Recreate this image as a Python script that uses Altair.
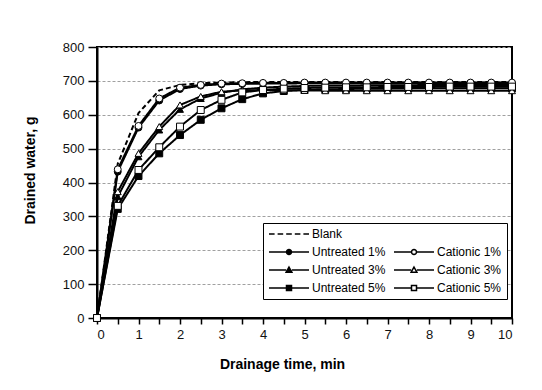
import altair as alt
import pandas as pd
import math

# ---------------- data ----------------
time_min = [0, 0.5, 1, 1.5, 2, 2.5, 3, 3.5, 4, 4.5, 5, 5.5, 6, 6.5, 7, 7.5, 8, 8.5, 9, 9.5, 10]

blank       = [0, 455, 605, 672, 688, 693, 695, 696, 697, 697, 697, 697, 697, 697, 697, 697, 697, 697, 697, 697, 697]
untreated_1 = [0, 432, 562, 642, 676, 686, 690, 691, 692, 692, 693, 693, 693, 693, 693, 693, 693, 693, 693, 693, 693]
cationic_1  = [0, 439, 567, 648, 680, 688, 692, 693, 694, 694, 695, 695, 695, 695, 695, 695, 695, 695, 695, 695, 695]
untreated_3 = [0, 358, 476, 555, 616, 648, 665, 675, 680, 683, 685, 686, 686, 687, 687, 687, 688, 688, 688, 688, 688]
cationic_3  = [0, 373, 486, 565, 629, 654, 668, 672, 673, 672, 672, 671, 671, 671, 671, 671, 671, 671, 671, 671, 671]
untreated_5 = [0, 322, 419, 486, 540, 585, 619, 646, 663, 670, 673, 675, 676, 677, 677, 678, 678, 678, 678, 678, 678]
cationic_5  = [0, 331, 437, 504, 565, 614, 644, 666, 673, 677, 679, 680, 681, 681, 682, 682, 682, 683, 683, 683, 683]

series_names = ["Blank", "Untreated 1%", "Untreated 3%", "Untreated 5%",
                "Cationic 1%", "Cationic 3%", "Cationic 5%"]
series_values = [blank, untreated_1, untreated_3, untreated_5, cationic_1, cationic_3, cationic_5]

x_ticks = [i * 0.5 for i in range(21)]
y_ticks = [0, 100, 200, 300, 400, 500, 600, 700, 800]

rows = []
for name, vals in zip(series_names, series_values):
    for t, v in zip(time_min, vals):
        rows.append({"t": t, "g": v, "series": name})
df = pd.DataFrame(rows)

# ---------------- styles ----------------
FONT = "Arial, Liberation Sans, sans-serif"
line_order = series_names
dash_range = [[5, 3]] + [[1, 0]] * 6

point_names = series_names[1:]
point_shapes = ["circle", "triangle-up", "square", "circle", "triangle-up", "square"]
point_fills = ["black", "black", "black", "white", "white", "white"]

# legend symbol paths (unit = sqrt(size)/2 px); line from x=-1..7 units, marker at 3
def circ(cx, r, n=16):
    pts = [(cx + r * math.cos(2 * math.pi * k / n), r * math.sin(2 * math.pi * k / n)) for k in range(n)]
    return "M" + "L".join(f"{x:.3f},{y:.3f}" for x, y in pts) + "Z"

def tri(cx, r):
    return f"M{cx:.3f},{-r:.3f}L{cx + r:.3f},{r * 0.75:.3f}L{cx - r:.3f},{r * 0.75:.3f}Z"

def sq(cx, r):
    return f"M{cx - r:.3f},{-r:.3f}H{cx + r:.3f}V{r:.3f}H{cx - r:.3f}Z"

R = 0.5
def with_line(marker, r=R):
    return f"M-1,0H{3 - r:.3f}M{3 + r:.3f},0H7" + marker

dashes = "".join(f"M{-1 + k * 1.72:.3f},0H{-1 + k * 1.72 + 1.12:.3f}" for k in range(5))

legend_names = ["Blank", " ", "Untreated 1%", "Cationic 1%", "Untreated 3%", "Cationic 3%",
                "Untreated 5%", "Cationic 5%"]
legend_paths = [dashes, "M0,0", with_line(circ(3, R)), with_line(circ(3, R)),
                with_line(tri(3, R * 1.15), R * 1.15), with_line(tri(3, R * 1.15), R * 1.15),
                with_line(sq(3, R)), with_line(sq(3, R))]
legend_fills = ["white", "white", "black", "white", "black", "white", "black", "white"]
legend_strokes = ["black"] * len(legend_names)

leg = alt.Legend(title=None, orient="none", legendX=166, legendY=176, columns=2,
                 direction="horizontal",
                 symbolSize=100, labelOffset=32, columnPadding=5, rowPadding=6,
                 padding=5, strokeColor="black", fillColor="white",
                 symbolStrokeColor="black", symbolStrokeWidth=1.5, symbolOpacity=1,
                 labelFont=FONT, labelFontSize=12, labelColor="black")

x_axis = alt.Axis(title="Drainage time, min", values=x_ticks, grid=False,
                  labelExpr="datum.value % 1 === 0 ? format(datum.value, 'd') : ''",
                  tickSize=6, labelPadding=4, titlePadding=16, titleX=185)
y_axis = alt.Axis(title="Drained water, g", values=y_ticks, grid=True,
                  gridDash=[3, 2], gridColor="#a0a0a0", gridWidth=1,
                  tickSize=9, labelPadding=4, titlePadding=25, titleY=123)
x_scale = alt.Scale(domain=[0, 10], nice=False)
y_scale = alt.Scale(domain=[0, 800], nice=False)

def xe():
    return alt.X("t:Q", scale=x_scale, axis=x_axis)

def ye():
    return alt.Y("g:Q", scale=y_scale, axis=y_axis)

lines = alt.Chart(df).mark_line(color="black", strokeWidth=2, opacity=1).encode(
    x=xe(), y=ye(),
    detail="series:N",
    strokeDash=alt.StrokeDash("series:N", scale=alt.Scale(domain=line_order, range=dash_range),
                              legend=None),
)

points = alt.Chart(df).transform_filter("datum.series !== 'Blank'").mark_point(
    filled=True, stroke="black", strokeWidth=1, size=48, opacity=1
).encode(
    x=xe(), y=ye(),
    shape=alt.Shape("series:N", scale=alt.Scale(domain=point_names, range=point_shapes), legend=None),
    fill=alt.Fill("series:N", scale=alt.Scale(domain=point_names, range=point_fills), legend=None),
)

legend_layer = alt.Chart(df).transform_filter("datum.t < 0").mark_point(
    filled=True, strokeWidth=1.5, opacity=1
).encode(
    x=xe(), y=ye(),
    shape=alt.Shape("series:N", scale=alt.Scale(domain=legend_names, range=legend_paths), legend=leg),
    fill=alt.Fill("series:N", scale=alt.Scale(domain=legend_names, range=legend_fills), legend=leg),
    stroke=alt.Stroke("series:N", scale=alt.Scale(domain=legend_names, range=legend_strokes), legend=leg),
)

chart = alt.layer(lines, points, legend_layer).resolve_scale(
    shape="independent", fill="independent", strokeDash="independent", stroke="independent"
).properties(
    width=415, height=271,
    autosize=alt.AutoSizeParams(type="none"),
    padding={"left": 89, "top": 39, "right": 22, "bottom": 64},
).configure_view(
    stroke="black", strokeWidth=2
).configure_axis(
    domainColor="black", domainWidth=2, tickColor="black", tickWidth=1.5,
    labelFont=FONT, labelFontSize=13, labelColor="#111",
    titleFont=FONT, titleFontSize=14, titleFontWeight="bold", titleColor="black",
)

chart.save("out.html", embed_options={"renderer": "svg", "actions": False})
